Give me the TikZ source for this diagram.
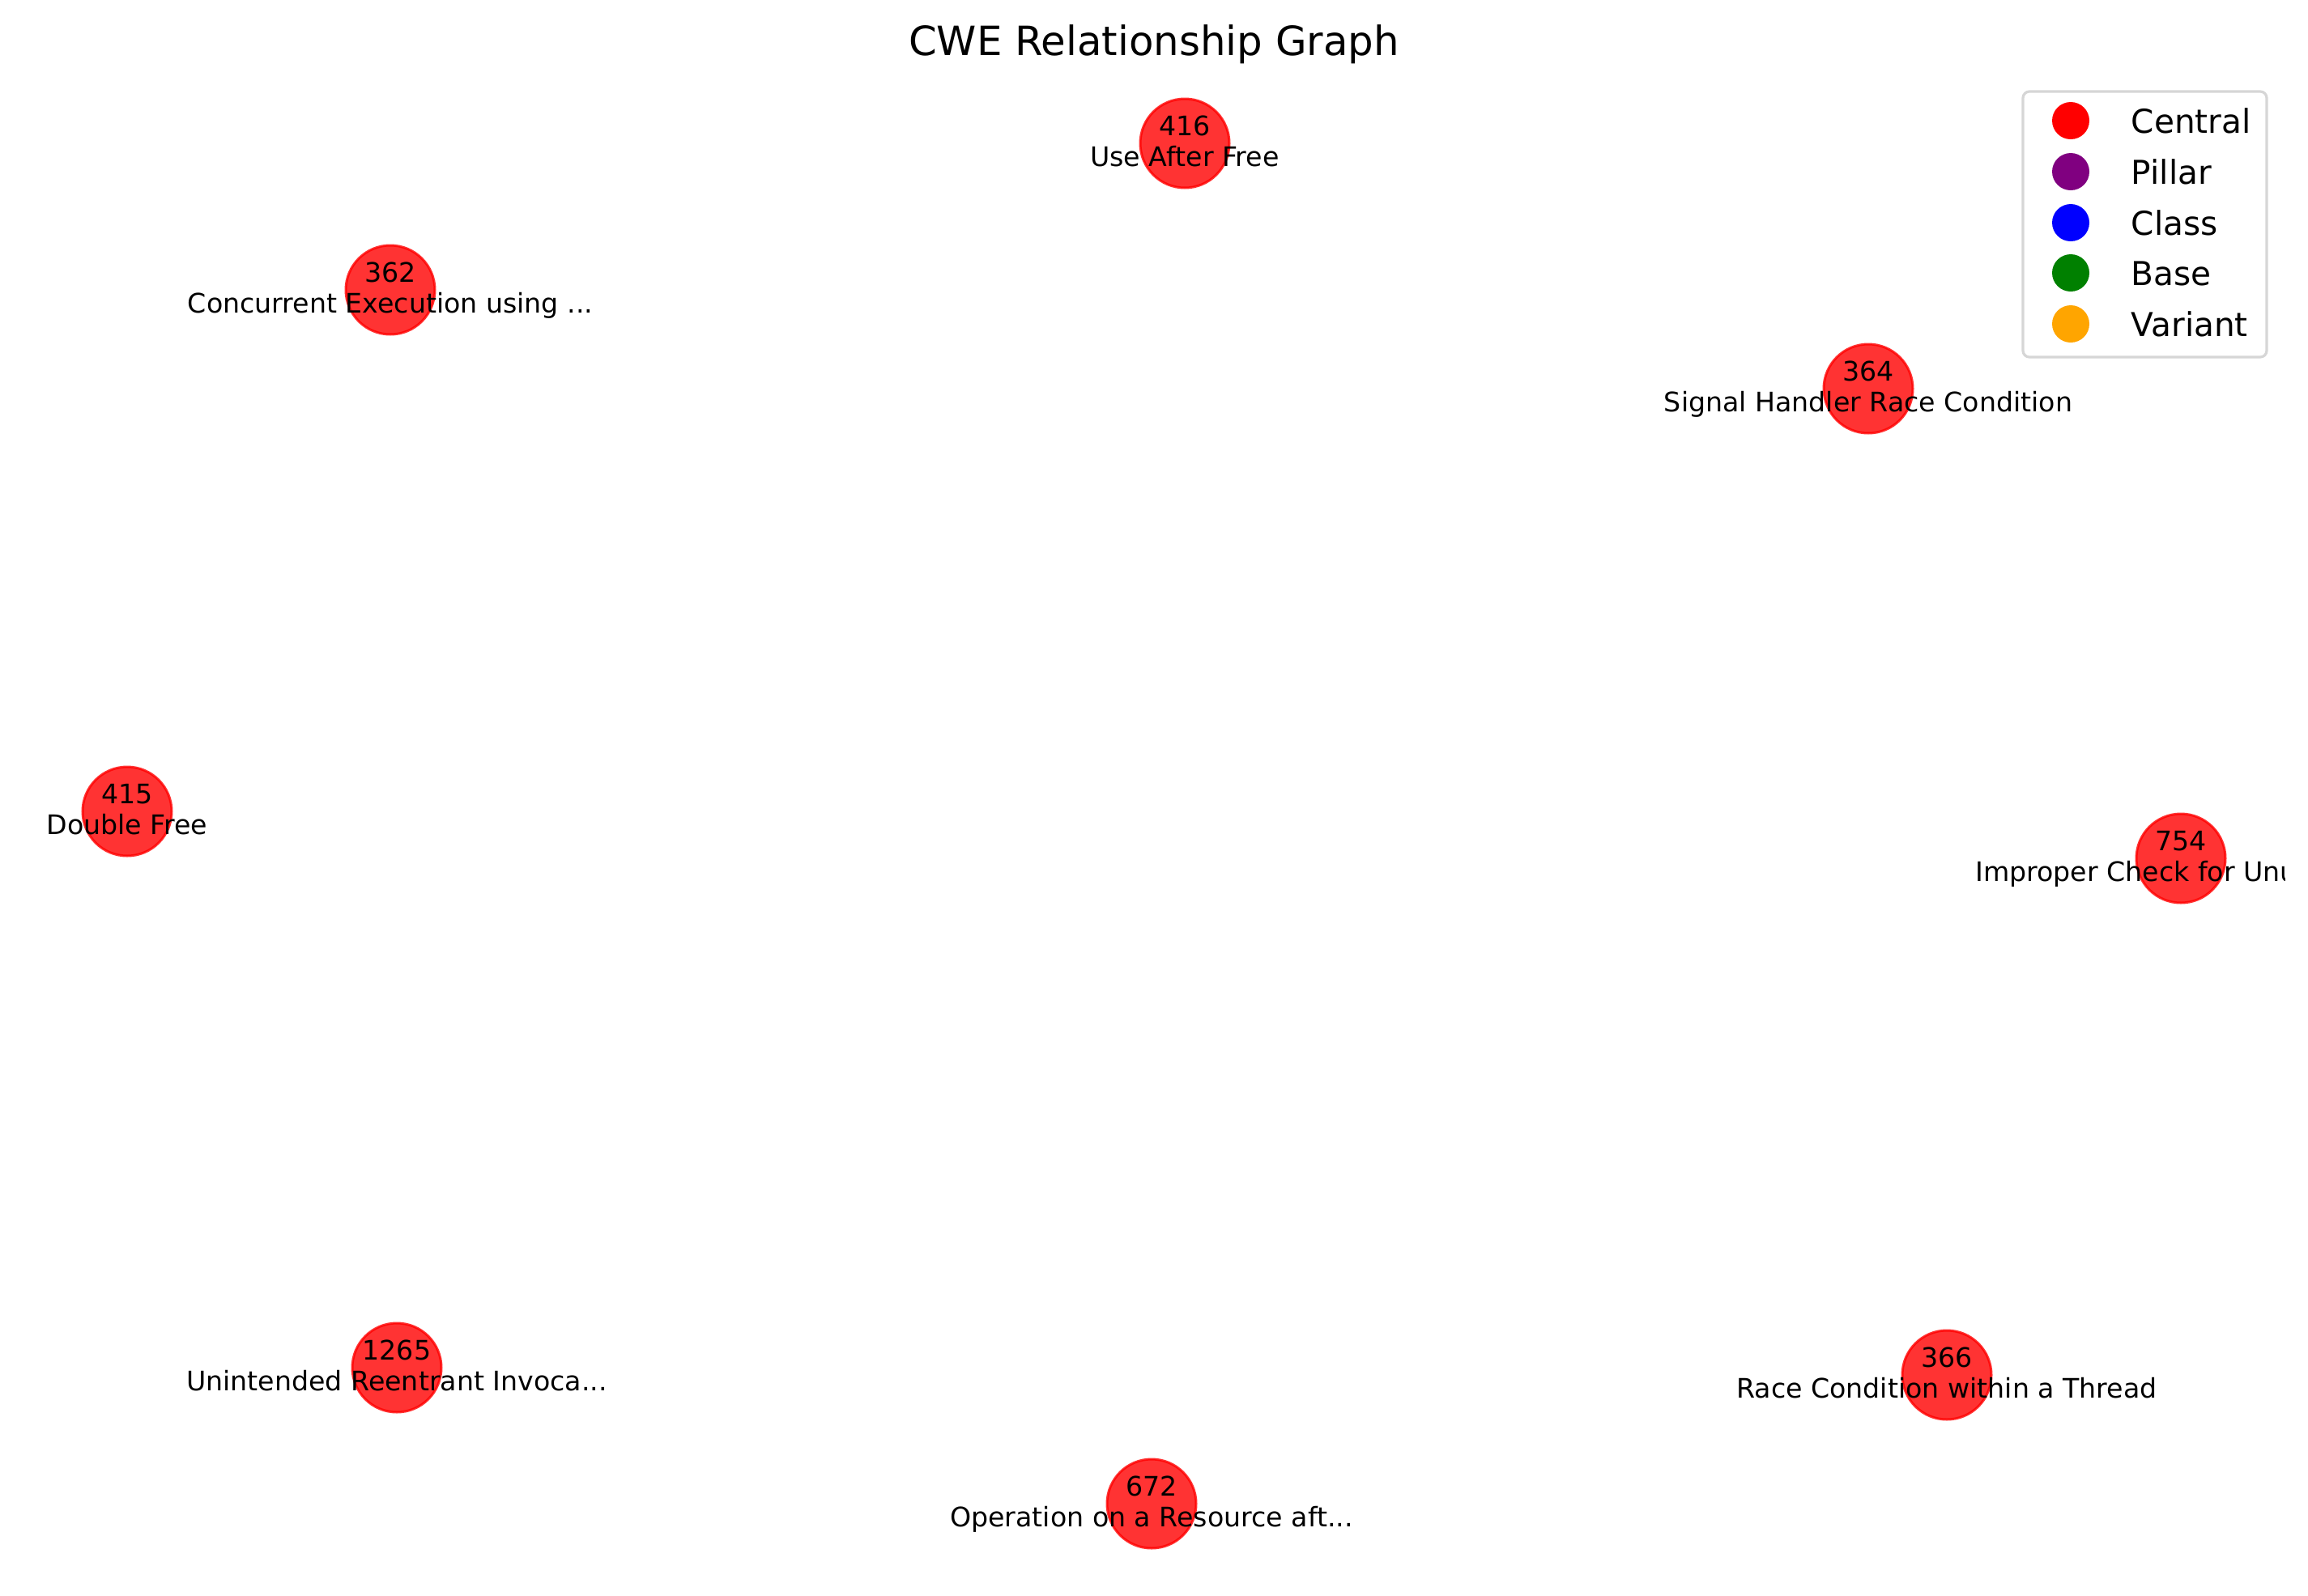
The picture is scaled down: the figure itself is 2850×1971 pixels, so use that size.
\documentclass[tikz,border=0pt]{standalone}
\usepackage{fontspec}
\setmainfont{DejaVu Sans}
\definecolor{legendgray}{HTML}{D6D6D6}
\definecolor{cpurple}{HTML}{800080}
\definecolor{cgreen}{HTML}{008000}
\definecolor{corange}{HTML}{FFA500}
\newcommand\trdots{...}
\begin{document}
\begin{tikzpicture}[x=0.25pt,y=-0.25pt,
  cwe/.style={circle, draw=red, fill=red, fill opacity=0.8, draw opacity=0.8,
    line width=0.75pt, minimum size=27.5pt, inner sep=0pt},
  numlbl/.style={anchor=base, inner sep=0pt, font=\fontsize{8.3}{10}\selectfont, text=black},
  namelbl/.style={anchor=base, inner sep=0pt, font=\fontsize{8.3}{10}\selectfont, text=black},
  legdot/.style={circle, fill=#1, draw=none, minimum size=11.5pt, inner sep=0pt},
  legtxt/.style={anchor=base west, inner sep=0pt, font=\fontsize{10.15}{12}\selectfont},
  titlelbl/.style={anchor=base, inner sep=0pt, font=\fontsize{12.45}{15}\selectfont}]
\useasboundingbox (0,0) rectangle (2850,1971);
\fill[white] (0,0) rectangle (2850,1971);
\node[titlelbl] (title) at (1425,68) {CWE Relationship Graph};
\begin{scope}
\clip (0,0) rectangle (2821,1971);
\foreach \id/\px/\py/\name in {
  416/1463/177/{Use After Free},
  362/482/358/{Concurrent Execution using \trdots},
  364/2307/480/{Signal Handler Race Condition},
  415/157/1002/{Double Free},
  754/2693/1060/{Improper Check for Unusual \trdots},
  1265/490/1689/{Unintended Reentrant Invoca\trdots},
  366/2404/1698/{Race Condition within a Thread},
  672/1422/1857/{Operation on a Resource aft\trdots}}{
  \node[cwe] (n\id) at (\px,\py) {};
  \node[numlbl] (n\id num) at ([yshift=2.5pt]n\id.center) {\id};
  \node[namelbl] (n\id name) at ([yshift=-7pt]n\id.center) {\name};
}
\end{scope}
% legend
\draw[draw=legendgray, line width=0.8pt, rounded corners=2pt, fill=white, fill opacity=0.8]
  (2498,113) rectangle (2799,441);
\foreach \c/\ly/\lab in {red/149/Central, cpurple/212/Pillar, blue/275/Class, cgreen/337/Base, corange/400/Variant}{
  \node[legdot=\c] (leg\lab) at (2557,\ly) {};
  \node[legtxt] (leg\lab txt) at (2631,\ly+15) {\lab};
}
\end{tikzpicture}
\end{document}
